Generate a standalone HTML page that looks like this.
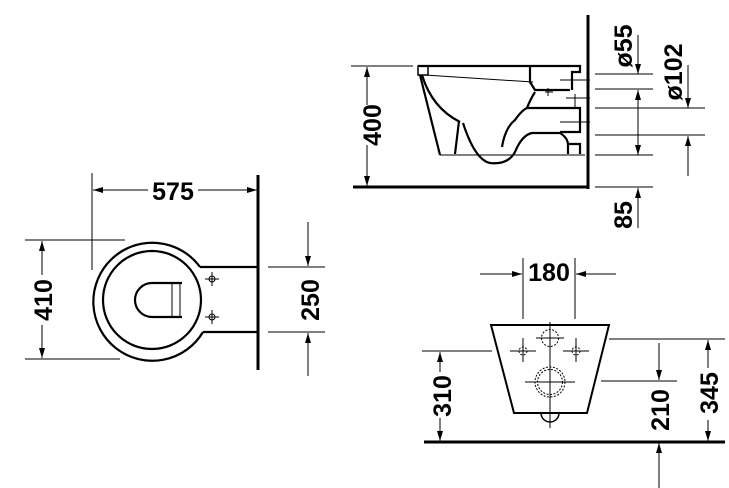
<!DOCTYPE html>
<html><head><meta charset="utf-8"><style>
html,body{margin:0;padding:0;background:#fff;}
svg{display:block;}
text{font-family:"Liberation Sans",sans-serif;font-weight:bold;font-size:25px;fill:#000;}
</style></head><body>
<svg width="729" height="488" viewBox="0 0 729 488" xmlns="http://www.w3.org/2000/svg">
<defs>
<marker id="a" viewBox="0 0 10 6" refX="10" refY="3" markerWidth="10" markerHeight="6" markerUnits="userSpaceOnUse" orient="auto"><path d="M0,0L10,3L0,6z" fill="#000"/></marker>
</defs>
<g stroke="#000" fill="none" stroke-width="1">
<line x1="588" y1="15" x2="588" y2="189" stroke-width="3"/>
<line x1="353" y1="187" x2="589" y2="187" stroke-width="3"/>
<line x1="351" y1="66" x2="413" y2="66"/>
<line x1="367" y1="105" x2="367" y2="67" marker-end="url(#a)"/>
<line x1="367" y1="145" x2="367" y2="186" marker-end="url(#a)"/>
<g stroke-width="2.2">
<path d="M418,66 L530,66"/>
<rect x="418" y="66" width="10" height="9" stroke-width="1.5"/>
<path d="M420,75 L440,155"/>
<path d="M440,155 L585,155" stroke-width="1"/>
<path d="M422,75 Q432,108 460,122"/>
<path d="M459,121 L455,154"/>
<path d="M463,123 Q475,160 490,163 Q508,165 515,152 Q522,135 532,133 L560,133 Q568,138 568,145 L568,154"/>
<path d="M568,144 L580,144 L580,154"/>
<path d="M502,147 Q505,128 515,120 Q522,110 527,108 L580,108 L580,132 L560,132"/>
<path d="M530,66 L530,82 L535,90 L570,90"/>
<path d="M535,92 Q530,100 527,108"/>
<path d="M530,66 L580,66 L580,72 L572,72 L572,90"/>
</g>
<path d="M425,75 L533,82"/>
<path d="M560,80 L590,80 M545,92 L553,92 M548,88 L548,96 M566,98 L590,98 M560,122 L590,122 M575,94 L575,108"/>
<path d="M595,74 L653,74 M595,89 L653,89 M595,108 L653,108 M643,108 L705,108 M595,135 L653,135 M643,135 L705,135 M595,155 L653,155 M595,187 L653,187"/>
<line x1="638" y1="35" x2="638" y2="74" marker-end="url(#a)"/>
<line x1="638" y1="120" x2="638" y2="90" marker-end="url(#a)"/>
<line x1="638" y1="120" x2="638" y2="155" marker-end="url(#a)"/>
<line x1="688" y1="65" x2="688" y2="108" marker-end="url(#a)"/>
<line x1="688" y1="176" x2="688" y2="136" marker-end="url(#a)"/>
<line x1="638" y1="228" x2="638" y2="188" marker-end="url(#a)"/>
<line x1="258" y1="175" x2="258" y2="370" stroke-width="3"/>
<line x1="92" y1="173" x2="92" y2="270"/>
<line x1="148" y1="190" x2="93" y2="190" marker-end="url(#a)"/>
<line x1="198" y1="190" x2="257" y2="190" marker-end="url(#a)"/>
<g stroke-width="2.2">
<path d="M200,267 A59,59 0 1 0 203,332"/>
<path d="M200,267 L258,267 M203,332 L258,332"/>
<circle cx="152" cy="300" r="49"/>
<path d="M182,283 L152,283 A17,17 0 0 0 152,317 L182,317"/>
</g>
<path d="M172,283 L172,317 M180,283 L180,317"/>
<circle cx="212" cy="279" r="3"/><path d="M205,279 L219,279 M212,272 L212,286"/>
<circle cx="212" cy="317" r="3"/><path d="M205,317 L219,317 M212,310 L212,324"/>
<path d="M25,240 L125,240 M25,359 L120,359"/>
<line x1="42" y1="275" x2="42" y2="241" marker-end="url(#a)"/>
<line x1="42" y1="325" x2="42" y2="358" marker-end="url(#a)"/>
<path d="M268,267 L325,267 M268,332 L325,332"/>
<line x1="308" y1="222" x2="308" y2="266" marker-end="url(#a)"/>
<line x1="308" y1="376" x2="308" y2="333" marker-end="url(#a)"/>
<path d="M523,258 L523,319 M575,258 L575,319"/>
<line x1="480" y1="274" x2="522" y2="274" marker-end="url(#a)"/>
<line x1="616" y1="274" x2="576" y2="274" marker-end="url(#a)"/>
<path d="M491,325 L609,325 L587,413 L514,413 Z" stroke-width="2"/>
<path d="M541,413 A9,9 0 0 0 559,413" stroke-width="1.5"/>
<circle cx="550" cy="338" r="8.5" stroke-dasharray="2,1.5"/>
<path d="M536,338 L564,338 M550,322 L550,428"/>
<circle cx="523" cy="351" r="4" stroke-dasharray="2,1.5"/><path d="M510,351 L536,351 M523,338 L523,362"/>
<circle cx="576" cy="351" r="4" stroke-dasharray="2,1.5"/><path d="M563,351 L589,351 M576,338 L576,362"/>
<circle cx="550" cy="382" r="15" stroke-dasharray="2,1.5"/>
<circle cx="550" cy="382" r="12.5" stroke-dasharray="2,1.5"/>
<path d="M525,382 L575,382"/>
<line x1="424" y1="442" x2="725" y2="442" stroke-width="3"/>
<path d="M422,351 L492,351"/>
<line x1="440" y1="372" x2="440" y2="352" marker-end="url(#a)"/>
<line x1="440" y1="418" x2="440" y2="441" marker-end="url(#a)"/>
<path d="M609,339 L725,339 M601,381 L677,381"/>
<line x1="708" y1="368" x2="708" y2="340" marker-end="url(#a)"/>
<line x1="708" y1="420" x2="708" y2="441" marker-end="url(#a)"/>
<line x1="659" y1="343" x2="659" y2="380" marker-end="url(#a)"/>
<line x1="659" y1="488" x2="659" y2="443" marker-end="url(#a)"/>
</g>
<text x="173" y="200" text-anchor="middle">575</text>
<text transform="translate(52,300) rotate(-90)" text-anchor="middle">410</text>
<text transform="translate(319,300) rotate(-90)" text-anchor="middle">250</text>
<text transform="translate(381,125) rotate(-90)" text-anchor="middle">400</text>
<text transform="translate(632,46) rotate(-90)" text-anchor="middle">ø55</text>
<text transform="translate(682,72) rotate(-90)" text-anchor="middle">ø102</text>
<text transform="translate(632,215) rotate(-90)" text-anchor="middle">85</text>
<text x="549" y="281" text-anchor="middle">180</text>
<text transform="translate(451,396) rotate(-90)" text-anchor="middle">310</text>
<text transform="translate(669,410) rotate(-90)" text-anchor="middle">210</text>
<text transform="translate(718,393) rotate(-90)" text-anchor="middle">345</text>
</svg>
</body></html>
